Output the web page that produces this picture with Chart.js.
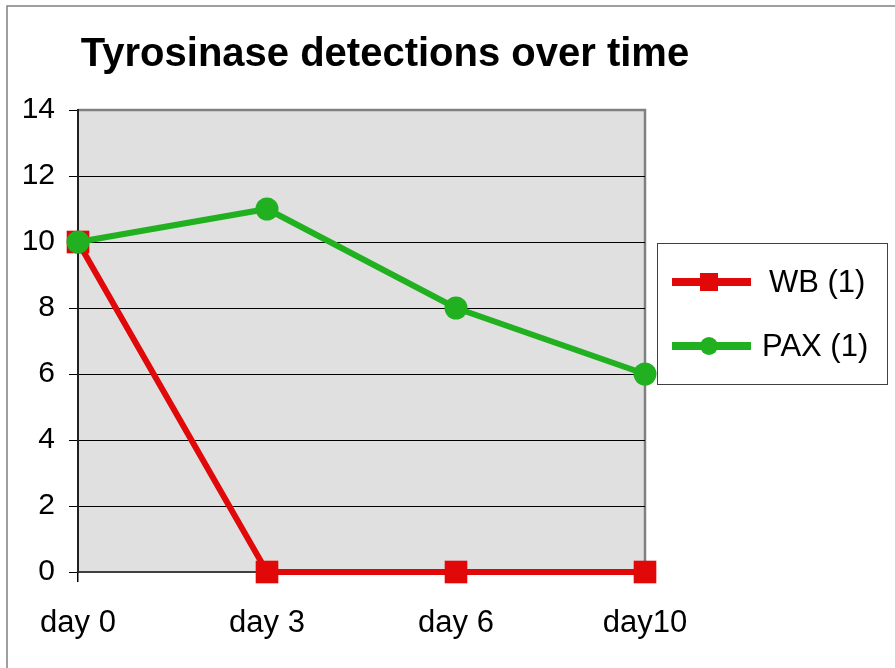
<!DOCTYPE html>
<html>
<head>
<meta charset="utf-8">
<script src="https://cdn.jsdelivr.net/npm/chart.js@4"></script>
<style>
  html, body { margin: 0; padding: 0; background: #fff; }
  #wrap { width: 895px; height: 668px; position: relative; }
</style>
</head>
<body>
<div id="wrap"><canvas id="chart"></canvas></div>
<script>
// data
const DAYS       = ["day 0", "day 3", "day 6", "day10"];
const WB_VALUES  = [10, 0, 0, 0];
const PAX_VALUES = [10, 11, 8, 6];
const Y_MIN = 0, Y_MAX = 14, Y_STEP = 2;

const RED   = "#e00808";
const GREEN = "#20b020";
const FONT  = "Arial, 'Liberation Sans', sans-serif";

// plot background + frame + title + legend box
const decor = {
  id: "decor",
  beforeDraw(chart) {
    const { ctx, chartArea: a } = chart;
    ctx.save();
    ctx.fillStyle = "#fff";
    ctx.fillRect(0, 0, chart.width, chart.height);
    // outer frame
    ctx.strokeStyle = "#808080";
    ctx.lineWidth = 1.5;
    ctx.strokeRect(7, 6, chart.width + 10, chart.height + 10);
    // plot area
    ctx.fillStyle = "#e0e0e0";
    ctx.fillRect(a.left, a.top, a.right - a.left, a.bottom - a.top);
    ctx.strokeStyle = "#808080";
    ctx.lineWidth = 2.5;
    ctx.beginPath();
    ctx.moveTo(a.left, a.top);
    ctx.lineTo(a.right, a.top);
    ctx.lineTo(a.right, a.bottom);
    ctx.stroke();
    // title
    ctx.fillStyle = "#000";
    ctx.font = "bold 40px " + FONT;
    ctx.textAlign = "center";
    ctx.textBaseline = "alphabetic";
    ctx.fillText("Tyrosinase detections over time", 385, 66);
    ctx.restore();
  },
  afterDraw(chart) {
    const { ctx } = chart;
    ctx.save();
    ctx.strokeStyle = "#404040";
    ctx.lineWidth = 1;
    ctx.strokeRect(657.5, 243.5, 230, 141);
    const rows = [
      { ds: chart.data.datasets[0], y: 282 },
      { ds: chart.data.datasets[1], y: 346 }
    ];
    rows.forEach(r => {
      ctx.strokeStyle = r.ds.borderColor;
      ctx.lineWidth = 8;
      ctx.beginPath();
      ctx.moveTo(672, r.y);
      ctx.lineTo(751, r.y);
      ctx.stroke();
      ctx.fillStyle = r.ds.borderColor;
      if (r.ds.pointStyle === "rect") {
        ctx.fillRect(700, r.y - 9, 18, 18);
      } else {
        ctx.beginPath();
        ctx.arc(709, r.y, 9, 0, Math.PI * 2);
        ctx.fill();
      }
      ctx.fillStyle = "#000";
      ctx.font = "31px " + FONT;
      ctx.textAlign = "left";
      ctx.textBaseline = "middle";
      ctx.fillText(r.ds.label, r.ds.pointStyle === "rect" ? 769 : 762, r.y + 1);
    });
    ctx.restore();
  }
};

new Chart(document.getElementById("chart"), {
  type: "line",
  data: {
    labels: DAYS,
    datasets: [
      {
        label: "WB (1)",
        data: WB_VALUES,
        borderColor: RED,
        backgroundColor: RED,
        borderWidth: 6,
        pointStyle: "rect",
        pointRadius: 16,
        pointBorderWidth: 0,
        tension: 0,
        clip: false,
        order: 2
      },
      {
        label: "PAX (1)",
        data: PAX_VALUES,
        borderColor: GREEN,
        backgroundColor: GREEN,
        borderWidth: 6,
        pointStyle: "circle",
        pointRadius: 11.5,
        pointBorderWidth: 0,
        tension: 0,
        clip: false,
        order: 1
      }
    ]
  },
  options: {
    responsive: true,
    maintainAspectRatio: false,
    animation: false,
    events: [],
    layout: { padding: { left: 0, right: 250, top: 110, bottom: 0 } },
    plugins: {
      legend: { display: false },
      title: { display: false },
      tooltip: { enabled: false }
    },
    scales: {
      x: {
        offset: false,
        grid: {
          drawOnChartArea: false,
          drawTicks: true,
          tickLength: 10,
          color: "#000",
          lineWidth: 1.5
        },
        border: { color: "#404040", width: 2 },
        ticks: {
          color: "#000",
          font: { family: FONT, size: 31 },
          padding: 23,
          maxRotation: 0,
          autoSkip: false
        },
        afterFit: s => { s.height = 668 - 572; }
      },
      y: {
        min: Y_MIN,
        max: Y_MAX,
        grid: {
          color: c => (c.tick && c.tick.value === Y_MAX) ? "#808080" : "#000",
          lineWidth: 1,
          tickLength: 9,
          tickColor: "#000"
        },
        border: { color: "#202020", width: 2 },
        ticks: {
          stepSize: Y_STEP,
          color: "#000",
          font: { family: FONT, size: 30 },
          padding: 14
        },
        afterFit: s => { s.width = 78; }
      }
    }
  },
  plugins: [decor]
});
</script>
</body>
</html>
